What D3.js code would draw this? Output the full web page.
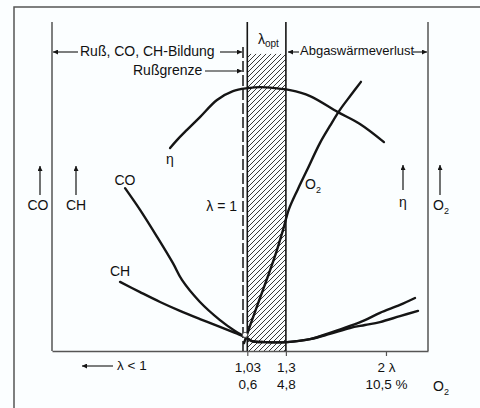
<!DOCTYPE html>
<html><head><meta charset="utf-8">
<script src="https://cdn.jsdelivr.net/npm/d3@7"></script>
<style>
html,body{margin:0;padding:0;background:#fbfeff;}
svg{display:block;}
text{font-family:"Liberation Sans",Arial,Helvetica,sans-serif;fill:#111;}
</style></head>
<body><svg id="c" width="480" height="408"></svg>
<script>
// ---- data (lambda = air ratio, value = relative 0..100) ----
const lambdaDomain = [-0.336, 2.294];
const valueDomain = [0, 100];
const lambdaOne = 1;
const optBand = [1.03, 1.3];
const hatchTop = 90.3;
const tickValues = [1.03, 1.3, 2];
const tickLabels = ["1,03", "1,3", "2 \u03bb"];
const o2Labels = ["0,6", "4,8", "10,5 %"];

const etaLambda = [0.490,0.538,0.608,0.699,0.818,0.930,1.035,1.119,1.224,1.329,1.469,1.664,1.818,1.986];
const etaValue  = [61.7,64.1,67.2,71.1,76.3,79.0,79.9,80.2,79.9,79.3,77.5,72.6,69.0,63.5];

const o2Lambda = [1.007,1.063,1.119,1.175,1.231,1.280,1.322,1.384,1.448,1.538,1.608,1.678,1.755,1.825];
const o2Value  = [2.4,9.4,16.1,22.8,29.8,36.8,43.2,49.2,55.0,63.2,68.4,73.3,77.8,81.8];

const coLambda = [0.175,0.280,0.399,0.510,0.573,0.699,0.839,0.944,1.014,1.063,1.154,1.308,1.469,1.608,1.748,1.853,1.958,2.098,2.203];
const coValue  = [49.5,42.9,34.7,26.7,21.6,14.9,9.4,6.1,4.3,3.0,2.7,2.7,3.6,5.5,7.6,9.4,11.6,14.0,16.1];

const chLambda = [0.140,0.280,0.420,0.559,0.699,0.839,0.944,1.014,1.063,1.154,1.308,1.469,1.608,1.748,1.853,1.958,2.098,2.224];
const chValue  = [21.0,17.9,14.9,12.2,9.7,7.3,5.5,4.3,3.0,2.7,2.7,3.6,5.2,7.0,7.9,8.8,10.6,12.2];

const minPoint = [1.014, 4.9];

// ---- drawing ----
const svg = d3.select("#c");
const x = d3.scaleLinear().domain(lambdaDomain).range([52, 428]);
const y = d3.scaleLinear().domain(valueDomain).range([351, 22]);
const ink = "#151515";

const defs = svg.append("defs");
const pat = defs.append("pattern").attr("id","hatch").attr("patternUnits","userSpaceOnUse")
  .attr("width",5).attr("height",5);
pat.append("path").attr("d","M-1,1 l2,-2 M0,5 l5,-5 M4,6 l2,-2")
  .attr("stroke","#222").attr("stroke-width",0.9);
defs.append("marker").attr("id","arr").attr("viewBox","0 0 10 10").attr("refX",10).attr("refY",5)
  .attr("markerUnits","userSpaceOnUse").attr("markerWidth",8).attr("markerHeight",5)
  .attr("orient","auto").append("path").attr("d","M0,0 L10,5 L0,10 Z").attr("fill",ink);

// outer frame
svg.append("rect").attr("x",14).attr("y",7).attr("width",475).attr("height",420)
  .attr("fill","none").attr("stroke","#555").attr("stroke-width",1.5);

// hatched optimum band
svg.append("rect").attr("x",x(optBand[0])).attr("y",y(hatchTop))
  .attr("width",x(optBand[1])-x(optBand[0])).attr("height",y(0)-y(hatchTop))
  .attr("fill","url(#hatch)");

// axes frame lines
const axisCol = "#555";
svg.append("line").attr("x1",x(lambdaDomain[0])).attr("x2",x(lambdaDomain[0]))
  .attr("y1",y(100)).attr("y2",y(0)).attr("stroke",axisCol).attr("stroke-width",1.5);
svg.append("line").attr("x1",x(lambdaDomain[1])).attr("x2",x(lambdaDomain[1]))
  .attr("y1",y(100)).attr("y2",y(0)).attr("stroke",axisCol).attr("stroke-width",1.5);

const ax = svg.append("g").attr("transform",`translate(0,${y(0)})`)
  .call(d3.axisBottom(x).tickValues(tickValues).tickSizeInner(5).tickSizeOuter(0)
    .tickFormat((d,i)=>tickLabels[i]));
ax.select(".domain").attr("stroke",axisCol).attr("stroke-width",1.5);
ax.selectAll(".tick line").attr("stroke",axisCol).attr("stroke-width",1.2);
ax.selectAll(".tick text").attr("font-size",13.5).attr("y",11).attr("dy","0.71em").attr("fill","#111")
  .attr("font-family","Liberation Sans, Arial, sans-serif");
ax.selectAll(".tick").append("text").text((d,i)=>o2Labels[i])
  .attr("y",38).attr("fill","#111").attr("font-size",13.5)
  .attr("font-family","Liberation Sans, Arial, sans-serif");

// band boundary lines
optBand.forEach(v=>{
  svg.append("line").attr("x1",x(v)).attr("x2",x(v)).attr("y1",y(100)).attr("y2",y(0))
    .attr("stroke",ink).attr("stroke-width",1.6);
});
svg.append("line").attr("x1",x(lambdaOne)).attr("x2",x(lambdaOne)).attr("y1",47).attr("y2",y(0))
  .attr("stroke",ink).attr("stroke-width",1.5).attr("stroke-dasharray","11,3");

// curves
const line = d3.line().x(d=>x(d[0])).y(d=>y(d[1])).curve(d3.curveCatmullRom.alpha(0.5));
const curves = [
  [etaLambda, etaValue, 2.4],
  [o2Lambda, o2Value, 2.4],
  [coLambda, coValue, 2.4],
  [chLambda, chValue, 2.4]
];
curves.forEach(([lx,ly,w])=>{
  svg.append("path").datum(lx.map((l,i)=>[l,ly[i]])).attr("d",line)
    .attr("fill","none").attr("stroke",ink).attr("stroke-width",w).attr("stroke-linecap","round");
});
svg.append("circle").attr("cx",x(minPoint[0])).attr("cy",y(minPoint[1])).attr("r",2.6)
  .attr("fill","#fff").attr("stroke","#333").attr("stroke-width",0.8);

// annotations
function arrow(x1,y1,x2,y2,w){
  svg.append("line").attr("x1",x1).attr("y1",y1).attr("x2",x2).attr("y2",y2)
    .attr("stroke",ink).attr("stroke-width",w||1.1).attr("marker-end","url(#arr)");
}
function txt(s,tx,ty,size,anchor){
  return svg.append("text").attr("x",tx).attr("y",ty).attr("font-size",size)
    .attr("text-anchor",anchor||"start").attr("dominant-baseline","middle").text(s);
}
txt("Ru\u00df, CO, CH-Bildung",80,52,14);
arrow(78,52,53,52); arrow(220,52,242,52);
txt("Ru\u00dfgrenze",133,71,14);
arrow(205,71,242,71);
const lo = svg.append("text").attr("x",258).attr("y",44).attr("font-size",14);
lo.append("tspan").text("\u03bb");
lo.append("tspan").text("opt").attr("font-size",10).attr("dy",3);
txt("Abgasw\u00e4rmeverlust",300,52,13);
arrow(299,52,288,52); arrow(413,52,427,52);

txt("\u03bb < 1",117,366,13.5);
arrow(113,366,82,366);
const o2b = svg.append("text").attr("x",433).attr("y",391).attr("font-size",14);
o2b.append("tspan").text("O"); o2b.append("tspan").text("2").attr("font-size",9).attr("dy",4);

// side labels
arrow(40,195,40,166,1.2); txt("CO",38,206,14,"middle");
arrow(76,195,76,166,1.2); txt("CH",76,206,14,"middle");
arrow(403,190,403,165,1.2); txt("\u03b7",403,203,14,"middle");
arrow(440,195,440,165,1.2);
const o2r = svg.append("text").attr("x",433).attr("y",210).attr("font-size",14);
o2r.append("tspan").text("O"); o2r.append("tspan").text("2").attr("font-size",9).attr("dy",4);

// curve labels
txt("\u03b7",170,160,14,"middle");
txt("CO",125,181,14,"middle");
txt("CH",120,272,14,"middle");
txt("\u03bb = 1",237,207,14,"end");
const o2c = svg.append("text").attr("x",305).attr("y",189).attr("font-size",14);
o2c.append("tspan").text("O"); o2c.append("tspan").text("2").attr("font-size",9).attr("dy",4);
</script></body></html>
